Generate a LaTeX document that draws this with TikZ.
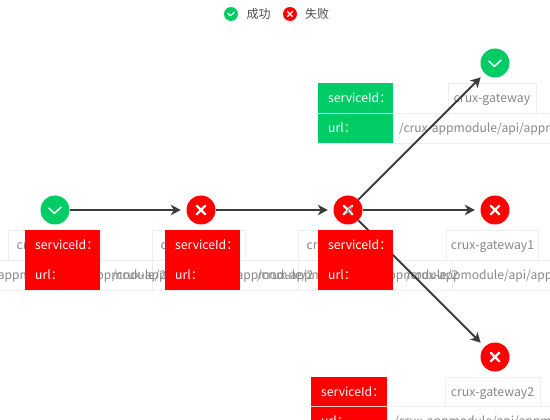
\documentclass[tikz,border=0pt]{standalone}
\usepackage{fontspec}
\setmainfont{Noto Sans CJK SC}
\definecolor{okgreen}{HTML}{00CC66}
\definecolor{badred}{HTML}{FF0000}
\definecolor{cellline}{HTML}{EEEEEE}
\definecolor{celltext}{HTML}{888888}
\definecolor{linkgray}{HTML}{3C3C3C}
\tikzset{
  okmark/.style={path picture={\draw[white,line width=#1,line cap=round,line join=round,shift={(path picture bounding box.center)}] (-6,-1.8) -- (-0.6,3.4) -- (6,-2.8);}},
  okmark/.default=1.5,
  smallok/.style={path picture={\draw[white,line width=1.2,line cap=round,line join=round,shift={(path picture bounding box.center)}] (-3.2,-0.6) -- (-0.6,1.8) -- (3.2,-1.6);}},
  badmark/.style={path picture={\draw[white,line width=2.4,line cap=round,shift={(path picture bounding box.center)}] (-4.3,-4.3) -- (4.3,4.3) (-4.3,4.3) -- (4.3,-4.3);}},
  big/.style={circle,inner sep=0pt,minimum size=29pt},
  small/.style={circle,inner sep=0pt,minimum size=14pt},
  cell/.style={draw=cellline,line width=0.8pt,fill=white},
  valtext/.style={text=celltext,font=\fontsize{12.3}{15}\selectfont,inner sep=0pt,anchor=base},
  urltext/.style={text=celltext,font=\fontsize{12.1}{15}\selectfont,inner sep=0pt,anchor=base west},
  labeltext/.style={text=white,font=\fontsize{12.2}{15}\selectfont,inner sep=0pt,anchor=base west},
  legendtext/.style={text=black!70,font=\fontsize{12}{14}\selectfont,inner sep=0pt,anchor=base west},
  link/.style={draw=linkgray,line width=1.8pt,-{Stealth[length=10pt,width=10.5pt,inset=3pt]},shorten >=5.5pt},
}
\usetikzlibrary{arrows.meta}
\begin{document}
\begin{tikzpicture}[x=1pt,y=-1pt]
\useasboundingbox (0,0) rectangle (550,420);
\clip (0,0) rectangle (550,420);
\fill[white] (0,0) rectangle (550,420);
% legend
\node[small,fill=okgreen,smallok] (legok) at (231,14) {};
\node[small,fill=badred] (legbad) at (290,14) {};
\draw[white,line width=1.2pt,line cap=round] (287.5,11.5) -- (292.5,16.5) (287.5,16.5) -- (292.5,11.5);
\node[legendtext] (legoktext) at (246.5,19) {成功};
\node[legendtext] (legbadtext) at (305,19) {失败};
% value cells: url rows first
\draw[cell] (-60,260) rectangle (152,290);
\draw[cell] (152,260) rectangle (298,290);
\draw[cell] (298,260) rectangle (452,290);
\draw[cell] (452,260) rectangle (600,290);
\draw[cell] (8,230) rectangle (101,260);
\draw[cell] (152,230) rectangle (245,260);
\draw[cell] (298,230) rectangle (391,260);
\draw[cell] (446,230) rectangle (538,260);
\draw[cell] (448,83) rectangle (536,113);
\draw[cell] (393,113) rectangle (600,143);
\draw[cell] (445,377) rectangle (540,406);
\draw[cell] (387,406) rectangle (600,436);
% value texts
\node[valtext] (va) at (55,249.5) {crux-gateway};
\node[valtext] (vb) at (199,249.5) {crux-gateway};
\node[valtext] (vc) at (345,249.5) {crux-gateway};
\node[valtext] (vd) at (492.5,249.5) {crux-gateway1};
\node[valtext] (ve) at (492,102.5) {crux-gateway};
\node[valtext] (vf) at (492.5,396) {crux-gateway2};
\node[urltext] (ua) at (-35,279.5) {/crux-appmodule/api/appmodule/2};
\node[urltext] (ub) at (112,279.5) {/crux-appmodule/api/appmodule/2};
\node[urltext] (uc) at (257,279.5) {/crux-appmodule/api/appmodule/2};
\node[urltext] (ud) at (406,279.5) {/crux-appmodule/api/appmodule/2};
\node[urltext] (ue) at (399,132.5) {/crux-appmodule/api/appmodule/2};
\node[urltext] (uf) at (394,425.5) {/crux-appmodule/api/appmodule/2};
% circles (named, filled later on top of links)
\node[big] (n1) at (55,210) {};
\node[big] (n2) at (201,210) {};
\node[big] (n3) at (348,210) {};
\node[big] (n4) at (495,63) {};
\node[big] (n5) at (495,210) {};
\node[big] (n6) at (495,357) {};
% links
\draw[link] (n1) -- (n2);
\draw[link] (n2) -- (n3);
\draw[link] (n3) -- (n4);
\draw[link] (n3) -- (n5);
\draw[link] (n3) -- (n6);
% circles
\node[big,fill=okgreen,okmark] at (n1) {};
\node[big,fill=badred,badmark] at (n2) {};
\node[big,fill=badred,badmark] at (n3) {};
\node[big,fill=okgreen,okmark] at (n4) {};
\node[big,fill=badred,badmark] at (n5) {};
\node[big,fill=badred,badmark] at (n6) {};
\draw[linkgray!60,line width=1pt] (347,206.5) -- (352,211) (352,206.5) -- (347.5,211) (347,211) -- (351,214);
% label blocks
\fill[badred] (25,230) rectangle (100,290);
\fill[badred] (165,230) rectangle (240,290);
\fill[badred] (318,230) rectangle (393,290);
\fill[okgreen] (318,83) rectangle (393,143);
\draw[white!85!okgreen,line width=0.6pt] (318,113) -- (393,113);
\fill[badred] (311,377) rectangle (387,436);
\draw[white!80!badred,line width=0.6pt] (311,406) -- (387,406);
\node[labeltext] (la) at (35,249.5) {serviceId：};
\node[labeltext] (lb) at (175,249.5) {serviceId：};
\node[labeltext] (lc) at (328,249.5) {serviceId：};
\node[labeltext] (ld) at (328,102.5) {serviceId：};
\node[labeltext] (le) at (321,396) {serviceId：};
\node[labeltext] (ma) at (35,279.5) {url：};
\node[labeltext] (mb) at (175,279.5) {url：};
\node[labeltext] (mc) at (328,279.5) {url：};
\node[labeltext] (md) at (328,132.5) {url：};
\node[labeltext] (me) at (321,425.5) {url：};
\end{tikzpicture}
\end{document}
